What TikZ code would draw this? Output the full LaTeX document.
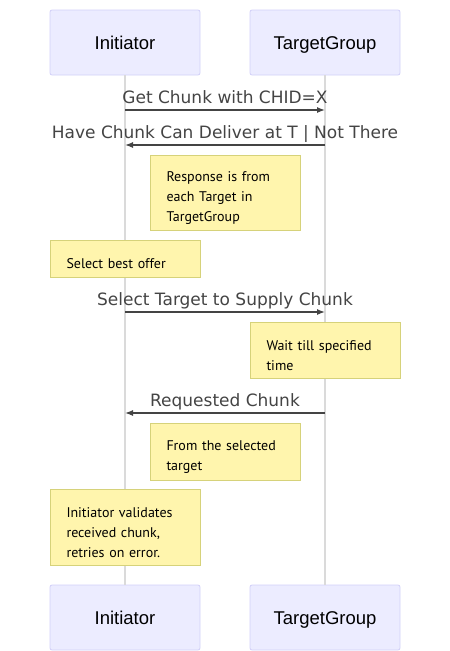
\documentclass[tikz,border=0pt]{standalone}
\usepackage{fontspec}
\setmainfont{DejaVu Sans}
\newfontfamily\notefont{PT Sans}
\newfontfamily\actorfont{Liberation Sans}
\usetikzlibrary{arrows.meta}
\definecolor{actorfill}{HTML}{ECECFF}
\definecolor{actorline}{HTML}{D2D0F8}
\definecolor{notefill}{HTML}{FFF5AD}
\definecolor{noteline}{HTML}{D6D27A}
\definecolor{msgline}{HTML}{444444}
\definecolor{lifegray}{HTML}{DADADA}
\tikzset{
  actor/.style={draw=actorline, fill=actorfill, rounded corners=2pt, line width=0.8pt,
    minimum width=150pt, minimum height=65pt, text height=13pt, text depth=0pt,
    font=\actorfont\fontsize{18.5}{20}\selectfont},
  note/.style={draw=noteline, fill=notefill, line width=1pt, anchor=north west,
    minimum width=150pt, text width=118pt, inner xsep=16pt, align=left,
    execute at begin node={\rule{0pt}{20pt}},
    font=\notefont\fontsize{14}{20}\selectfont},
  msg/.style={draw=msgline, line width=1.3pt, -{Latex[length=8pt,width=6pt]}},
  msgtext/.style={midway, anchor=base, yshift=7pt, inner sep=0pt, text=msgline,
    font=\fontsize{17}{20}\selectfont},
  lifeline/.style={draw=lifegray, line width=1.5pt}
}
\begin{document}
\begin{tikzpicture}[x=1pt,y=-1pt]
    % Draw bounding box
    \useasboundingbox (0,0) rectangle (450,651);
    % Draw actors
    \node[actor] (initTop) at (125,42.5) {Initiator};
    \node[actor] (tgTop) at (325,42.5) {TargetGroup};
    \node[actor] (initBot) at (125,617.5) {Initiator};
    \node[actor] (tgBot) at (325,617.5) {TargetGroup};
    % Draw lifelines
    \draw[lifeline] (initTop.south) -- (initBot.north);
    \draw[lifeline] (tgTop.south) -- (tgBot.north);

    % Draw messages
    \coordinate (getI) at (125,110);
    \coordinate (getT) at (325,110);
    \draw[msg] (getI) -- node[msgtext] {Get Chunk with CHID=X} (getT);
    \coordinate (haveI) at (125,145);
    \coordinate (haveT) at (325,145);
    \draw[msg] (haveT) -- node[msgtext] {Have Chunk Can Deliver at T | Not There} (haveI);
    \coordinate (selI) at (125,312);
    \coordinate (selT) at (325,312);
    \draw[msg] (selI) -- node[msgtext] {Select Target to Supply Chunk} (selT);
    \coordinate (reqI) at (125,413);
    \coordinate (reqT) at (325,413);
    \draw[msg] (reqT) -- node[msgtext] {Requested Chunk} (reqI);

    % Draw notes
    \node[note, minimum height=75pt] (response) at (150,155) {Response is from\\each Target in\\TargetGroup};
    \node[note, minimum height=37pt] (bestOffer) at (50,240) {Select best offer};
    \node[note, minimum height=56pt] (waitTime) at (250,322) {Wait till specified\\time};
    \node[note, minimum height=57pt] (fromTarget) at (150,423) {From the selected\\target};
    \node[note, minimum height=76pt] (validate) at (50,489) {Initiator validates\\received chunk,\\retries on error.};
\end{tikzpicture}
\end{document}
